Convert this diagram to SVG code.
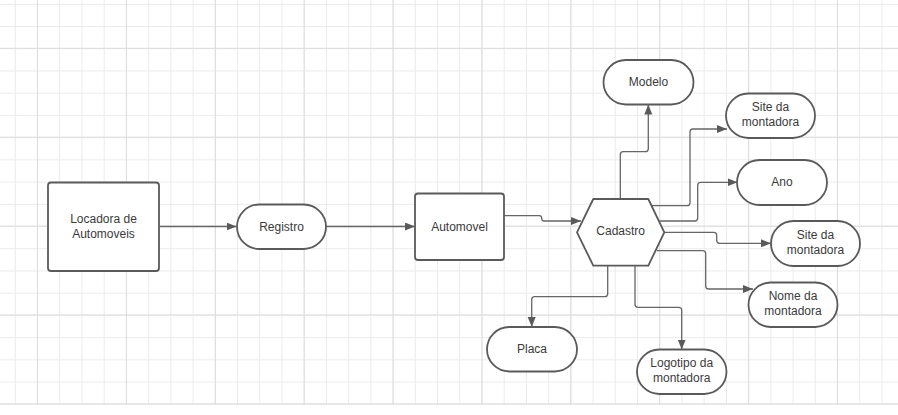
<svg xmlns="http://www.w3.org/2000/svg" width="898" height="415" viewBox="0 0 898 415">
<style>
.node{fill:#fff;stroke:#5a5a5a;stroke-width:1.8}
.lbl{font-family:"Liberation Sans",Arial,sans-serif;font-size:12px;fill:#3a3a3a;text-anchor:middle}
.edge{fill:none;stroke:#666;stroke-width:1.3}
</style>
<defs>
<pattern id="minor" patternUnits="userSpaceOnUse" x="14.8" y="3.8" width="22.2222" height="22.2222">
<rect x="0" y="0" width="1" height="22.2222" fill="#ebebeb"/>
<rect x="0" y="0" width="22.2222" height="1" fill="#ebebeb"/>
</pattern>
<pattern id="major" patternUnits="userSpaceOnUse" x="37" y="47.8" width="88.8889" height="88.8889">
<rect x="0" y="0" width="1" height="88.8889" fill="#dcdcdc"/>
<rect x="0" y="0" width="88.8889" height="1" fill="#dcdcdc"/>
</pattern>
<marker id="arr" markerUnits="userSpaceOnUse" markerWidth="11" markerHeight="9" refX="10" refY="4" orient="auto">
<path d="M0 0 L10 4 L0 8 z" fill="#5a5a5a"/>
</marker>
</defs>
<rect width="898" height="415" fill="#fff"/>
<rect width="898" height="405" fill="url(#minor)"/>
<rect width="898" height="405" fill="url(#major)"/>

<g id="connectors">
<path class="edge" marker-end="url(#arr)" d="M159.5 226.5 H236.5"/>
<path class="edge" marker-end="url(#arr)" d="M326 226.5 H415"/>
<path class="edge" marker-end="url(#arr)" d="M504 215.7 H539.2 Q541.7 215.7 541.7 218.2 V218.5 Q541.7 221 544.2 221 H581"/>
<path class="edge" marker-end="url(#arr)" d="M620.3 199 V154.7 Q620.3 151.7 623.3 151.7 H645.3 Q648.3 151.7 648.3 148.7 V104.5"/>
<path class="edge" marker-end="url(#arr)" d="M651.7 205.7 H687 Q690 205.7 690 202.7 V132 Q690 129 693 129 H727"/>
<path class="edge" marker-end="url(#arr)" d="M660 221 H694.7 Q697.7 221 697.7 218 V185.3 Q697.7 182.3 700.7 182.3 H737.5"/>
<path class="edge" marker-end="url(#arr)" d="M664.3 232.3 H713.7 Q716.7 232.3 716.7 235.3 V240.3 Q716.7 243.3 719.7 243.3 H771"/>
<path class="edge" marker-end="url(#arr)" d="M656.7 250.7 H702.7 Q705.7 250.7 705.7 253.7 V286 Q705.7 289 708.7 289 H753"/>
<path class="edge" marker-end="url(#arr)" d="M607.7 265.7 V293.7 Q607.7 296.7 604.7 296.7 H534.7 Q531.7 296.7 531.7 299.7 V327"/>
<path class="edge" marker-end="url(#arr)" d="M635 265.7 V304.3 Q635 307.3 638 307.3 H678.7 Q681.7 307.3 681.7 310.3 V349.5"/>
</g>

<g id="locadora">
<rect class="node" x="48" y="182.5" width="111" height="88.5" rx="3"/>
<text class="lbl" x="103.5" y="223">Locadora de</text>
<text class="lbl" x="103.5" y="238">Automoveis</text>
</g>
<g id="registro">
<rect class="node" x="237" y="204.5" width="89" height="44.5" rx="22.25"/>
<text class="lbl" x="281.5" y="230.5">Registro</text>
</g>
<g id="automovel">
<rect class="node" x="415" y="193.5" width="89" height="66.5" rx="3"/>
<text class="lbl" x="459.5" y="230.5">Automovel</text>
</g>
<g id="cadastro">
<path class="node" d="M593.3 199 H648.3 L664.3 232.3 L648.3 265.7 H593.3 L577 232.3 Z" stroke-linejoin="round"/>
<text class="lbl" x="620.7" y="235">Cadastro</text>
</g>
<g id="modelo">
<rect class="node" x="603.5" y="60" width="90" height="44.5" rx="22.25"/>
<text class="lbl" x="648.5" y="85.5">Modelo</text>
</g>
<g id="site1">
<rect class="node" x="726" y="93.5" width="89" height="44.5" rx="22.25"/>
<text class="lbl" x="770.5" y="111">Site da</text>
<text class="lbl" x="770.5" y="126">montadora</text>
</g>
<g id="ano">
<rect class="node" x="737" y="160" width="90" height="45" rx="22.5"/>
<text class="lbl" x="782" y="185.5">Ano</text>
</g>
<g id="site2">
<rect class="node" x="771" y="221" width="89" height="45" rx="22.5"/>
<text class="lbl" x="815.5" y="238.5">Site da</text>
<text class="lbl" x="815.5" y="253.5">montadora</text>
</g>
<g id="nome">
<rect class="node" x="748.5" y="282.5" width="89" height="44.5" rx="22.25"/>
<text class="lbl" x="793" y="300">Nome da</text>
<text class="lbl" x="793" y="315">montadora</text>
</g>
<g id="placa">
<rect class="node" x="487" y="327" width="90" height="44.5" rx="22.25"/>
<text class="lbl" x="532" y="352.5">Placa</text>
</g>
<g id="logotipo">
<rect class="node" x="637" y="349.5" width="89.5" height="44.5" rx="22.25"/>
<text class="lbl" x="681.7" y="367">Logotipo da</text>
<text class="lbl" x="681.7" y="382">montadora</text>
</g>
</svg>
